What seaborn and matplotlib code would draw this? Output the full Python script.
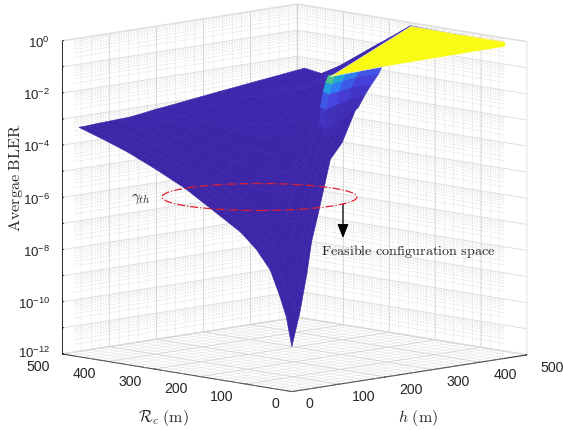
import numpy as np
import matplotlib
matplotlib.use('Agg')
import matplotlib.pyplot as plt
from matplotlib.patches import Ellipse
from mpl_toolkits.mplot3d import proj3d
import seaborn as sns

h_vals = [3, 20, 35, 45, 60, 85, 110, 140, 165, 190, 300, 483]
rc_vals = [3, 15, 30, 50, 80, 114, 172, 236, 300, 360, 412, 467]

# log10 of BLER, one row per rc value
log_bler = [
    [-10.3, -9.05, -7.6, -6.4, -5.3, -3.35, -2.78, -1.55, -0.75, -0.1, -0.05, -0.05],
    [-9.2, -8.9, -7.7, -6.6, -5.5, -3.7, -2.4, -1.3, -0.5, -0.1, -0.05, -0.05],
    [-8.4, -8.3, -7.6, -6.8, -5.7, -4.0, -2.5, -1.1, -0.4, -0.1, -0.05, -0.05],
    [-7.5, -7.5, -7.2, -6.7, -5.8, -4.3, -2.9, -0.56, -0.2, -0.08, -0.05, -0.05],
    [-6.8, -6.8, -6.7, -6.5, -5.9, -4.7, -3.6, -2.2, -1.0, -0.4, -0.06, -0.05],
    [-6.24, -6.2, -6.15, -6.1, -5.8, -5.0, -4.2, -3.1, -2.2, -1.2, -0.1, -0.05],
    [-5.6, -5.58, -5.55, -5.5, -5.3, -4.9, -4.4, -3.8, -3.2, -2.6, -0.9, -0.05],
    [-4.9, -4.88, -4.85, -4.8, -4.7, -4.5, -4.2, -3.8, -3.4, -3.0, -1.7, -0.02],
    [-4.35, -4.33, -4.3, -4.28, -4.2, -4.05, -3.9, -3.6, -3.35, -3.1, -2.2, -0.84],
    [-3.88, -3.86, -3.85, -3.83, -3.8, -3.7, -3.6, -3.4, -3.2, -3.05, -2.55, -1.7],
    [-3.55, -3.53, -3.52, -3.5, -3.48, -3.42, -3.35, -3.2, -3.1, -3.0, -2.75, -2.46],
    [-3.23, -3.22, -3.2, -3.19, -3.18, -3.16, -3.14, -3.07, -3.0, -2.95, -2.7, -2.31],
]

# steep part just under the saturated sheet
fan_h = [[69, 51, 50, 60, 70],
         [77, 72, 86, 92, 127],
         [137, 134, 136, 153, 182],
         [211, 214, 213, 246, 268],
         [292, 285, 306, 345, 372]]
fan_rc = [[11, -10, -17, -12, -8],
          [6, -1, 7, 7, 35],
          [47, 39, 36, 48, 69],
          [101, 95, 89, 113, 128],
          [155, 132, 140, 165, 185]]
fan_z = [[-2.0, -1.2, -0.6, -0.3, -0.07],
         [-2.2, -1.4, -0.89, -0.52, -0.3],
         [-2.3, -1.5, -1.0, -0.7, -0.5],
         [-2.4, -1.7, -1.22, -1.0, -0.8],
         [-2.4, -1.8, -1.5, -1.3, -1.15]]

# saturated sheet, BLER close to 1
sheet_h = [[483, 483], [190, 483]]
sheet_rc = [[412, 236], [3, 3]]
sheet_z = [[-2.46, -0.02], [-0.1, -0.05]]

axis_ticks = [0, 100, 200, 300, 400, 500]
minor_ticks = list(range(0, 501, 20))
z_ticks = [-12, -10, -8, -6, -4, -2, 0]
z_decades = list(range(-12, 1))
parula = ['#3e26a8', '#4743e0', '#2f7cf2', '#1fa8d8', '#2ac0a8', '#8dc855', '#eab92e', '#f9fb15']

sns.set_theme(style='white')
plt.rcParams['font.family'] = ['Liberation Sans', 'DejaVu Sans']
plt.rcParams['mathtext.fontset'] = 'cm'
plt.rcParams['grid.color'] = '#e0e0e0'
plt.rcParams['grid.linewidth'] = 0.7

cmap = sns.blend_palette(parula, as_cmap=True)


def draw_surface(ax, x, y, z, order, use_min=False):
    z = np.array(z)
    corners = np.stack([z[:-1, :-1], z[1:, 1:], z[:-1, 1:], z[1:, :-1]])
    level = corners.min(axis=0) if use_min else corners.mean(axis=0)
    colors = cmap(np.clip(10.0 ** level, 0, 1) ** 0.7)
    surf = ax.plot_surface(x, y, z, facecolors=colors, rstride=1, cstride=1, shade=False,
                           linewidth=0.4, zorder=order)
    surf.set_edgecolor(colors.reshape(-1, 4))


fig = plt.figure(figsize=(5.63, 4.30), dpi=100)
ax = fig.add_axes([0.0130, 0.0264, 1, 1], projection='3d', computed_zorder=False)
ax.set_proj_type('ortho')
ax.view_init(elev=9.2, azim=-134.3)
ax.set_box_aspect((1, 1, 0.966), zoom=1.27)

ax.set_xlim(0, 500)
ax.set_ylim(0, 500)
ax.set_zlim(-12, 0)
for axis in (ax.xaxis, ax.yaxis, ax.zaxis):
    axis.set_pane_color((1, 1, 1, 1))
    axis.pane.set_edgecolor('#e0e0e0')
    axis.line.set_color('#262626')
    axis.line.set_linewidth(0.7)
    axis._axinfo['tick']['inward_factor'] = 0.0
    axis._axinfo['tick']['outward_factor'] = 0.07
    axis._axinfo['tick']['linewidth'] = {True: 0.7, False: 0.4}
ax.grid(True)

ax.set_xticks(axis_ticks)
ax.set_yticks(axis_ticks)
ax.set_zticks(z_decades)
ax.set_xticklabels([])
ax.set_yticklabels([])
ax.set_zticklabels([])
ax.tick_params(colors='#262626')

# dotted minor grid on the floor and both back walls
dot = dict(color='#c8c8c8', lw=0.45, ls=':', zorder=1)
for t in minor_ticks:
    ax.plot([t, t], [0, 500], [-12, -12], **dot)
    ax.plot([0, 500], [t, t], [-12, -12], **dot)
    ax.plot([t, t], [500, 500], [-12, 0], **dot)
    ax.plot([500, 500], [t, t], [-12, 0], **dot)
for dec in z_decades[:-1]:
    for m in range(2, 10):
        z = dec + np.log10(m)
        ax.plot([0, 500], [500, 500], [z, z], **dot)
        ax.plot([500, 500], [0, 500], [z, z], **dot)
        ax.plot([0, 0], [500, 505], [z, z], color='#262626', lw=0.4, zorder=1)

H, R = np.meshgrid(h_vals, rc_vals)
draw_surface(ax, H, R, log_bler, 3, use_min=True)
draw_surface(ax, np.array(fan_h), np.array(fan_rc), fan_z, 4)
ax.plot_surface(np.array(sheet_h), np.array(sheet_rc), np.array(sheet_z), color=parula[-1],
                shade=False, linewidth=0.3, zorder=5)

# tick labels keep to the reference's offsets, placed from data space as flat text
fig.canvas.draw()
proj = ax.get_proj()


def tick_label(x, y, z, text, ha, size=10.2):
    px, py, _ = proj3d.proj_transform(x, y, z, proj)
    ax.text2D(px, py, text, transform=ax.transData, ha=ha, va='center', fontsize=size, color='#262626')


for t in axis_ticks:
    tick_label(t - 71, -102, -12, str(t), 'left')
    tick_label(-99, t - 74, -12, str(t), 'right')
for z in z_ticks:
    # the lowest label sits a little higher so it clears the 500 below it
    tick_label(-13, 513, z + 0.03 if z == -12 else z - 0.1, '$\\mathdefault{10^{%d}}$' % z, 'right', size=9.6)

# annotations sit in figure pixels
fig.text(16.5 / 563, 1 - 178 / 430, '$\\mathrm{Avergae\\ BLER}$', rotation=90, fontsize=11.6,
         color='#262626', ha='center', va='center')
fig.text(163 / 563, 1 - 418 / 430, '$\\mathcal{R}_c\\ \\mathrm{(m)}$', fontsize=11.5,
         color='#262626', ha='center', va='center')
fig.text(418 / 563, 1 - 418 / 430, '$h\\ \\mathrm{(m)}$', fontsize=11.5,
         color='#262626', ha='center', va='center')
fig.text(141 / 563, 1 - 199 / 430, '$\\gamma_{th}$', fontsize=11, color='#262626', ha='center', va='center')
fig.text(408 / 563, 1 - 251 / 430, '$\\mathrm{Feasible\\ configuration\\ space}$', fontsize=10.2,
         color='#262626', ha='center', va='center')
fig.add_artist(Ellipse((259.5 / 563, 1 - 197 / 430), 195 / 563, 27 / 430, transform=fig.transFigure,
                       fill=False, edgecolor='#e02030', lw=0.9, ls='-.'))
ax.annotate('', xy=(343 / 563, 1 - 238 / 430), xytext=(343 / 563, 1 - 204 / 430), xycoords='figure fraction',
            textcoords='figure fraction', arrowprops=dict(arrowstyle='-|>,head_length=0.7,head_width=0.28',
                                                          color='black', lw=0.9, shrinkA=0, shrinkB=0))

fig.savefig('out.png', dpi=100)
